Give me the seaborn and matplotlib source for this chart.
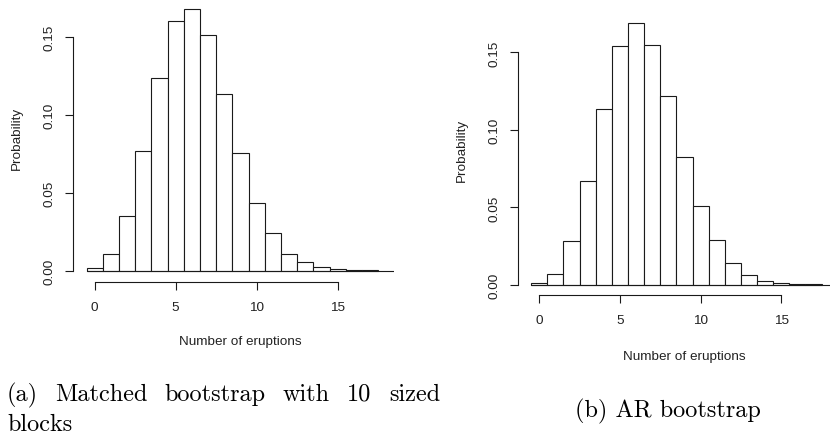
import numpy as np
import matplotlib
matplotlib.use("Agg")
import matplotlib.pyplot as plt
import seaborn as sns

# eruption counts (one bar per integer) and the bootstrap probabilities
eruptions = list(range(18))
prob_matched = [0.0017, 0.0107, 0.0353, 0.0767, 0.1237, 0.1600, 0.1680, 0.1513, 0.1132,
                0.0754, 0.0436, 0.0241, 0.0111, 0.0056, 0.0024, 0.0011, 0.0004, 0.0004]
prob_ar = [0.0011, 0.0071, 0.0286, 0.0668, 0.1135, 0.1539, 0.1687, 0.1545, 0.1219,
           0.0825, 0.0507, 0.0288, 0.0142, 0.0062, 0.0028, 0.0011, 0.0004, 0.0004]
x_ticks = [0, 5, 10, 15]
y_ticks = [0.00, 0.05, 0.10, 0.15]
y_tick_labels = ["0.00", "0.05", "0.10", "0.15"]
caption_a = ["(a)", "Matched", "bootstrap", "with", "10", "sized"]
caption_a2 = "blocks"
caption_b = "(b) AR bootstrap"

sns.set_style("ticks")
plt.rcParams["font.family"] = ["Liberation Sans", "DejaVu Sans"]

W, H = 830, 435
fig = plt.figure(figsize=(W / 100, H / 100), dpi=100)


def px_box(l, t, r, b):
    return [l / W, 1 - b / H, (r - l) / W, (b - t) / H]


def draw_hist(box, xlim, ylim, probs, xlab_px, ylab_px):
    ax = fig.add_axes(px_box(*box))
    sns.histplot(x=eruptions, weights=probs, discrete=True, ax=ax,
                 color="white", edgecolor="#1a1a1a", linewidth=0.8, alpha=1)
    ax.set_xlim(*xlim)
    ax.set_ylim(*ylim)
    start = (eruptions[0] - 0.5 - xlim[0]) / (xlim[1] - xlim[0])
    ax.axhline(0, xmin=start, xmax=1, color="#1a1a1a", lw=0.8)
    for s in ["top", "right"]:
        ax.spines[s].set_visible(False)
    ax.spines["left"].set_bounds(y_ticks[0], y_ticks[-1])
    ax.spines["bottom"].set_bounds(x_ticks[0], x_ticks[-1])
    for s in ["left", "bottom"]:
        ax.spines[s].set_linewidth(0.8)
        ax.spines[s].set_color("#1a1a1a")
    ax.set_xticks(x_ticks)
    ax.set_yticks(y_ticks)
    ax.set_yticklabels(y_tick_labels, rotation=90, va="center")
    ax.tick_params(length=5.8, width=0.8, color="#1a1a1a", labelsize=9.7,
                   labelcolor="#222222")
    ax.tick_params(axis="x", pad=8)
    ax.tick_params(axis="y", pad=7)
    ax.set_xlabel("Number of eruptions", fontsize=9.7, color="#222222", va="center")
    ax.set_ylabel("Probability", fontsize=9.7, color="#222222", va="center")
    l, t, r, b = box
    ax.xaxis.set_label_coords((xlab_px[0] - l) / (r - l), (b - xlab_px[1]) / (b - t))
    ax.yaxis.set_label_coords((ylab_px[0] - l) / (r - l), (b - ylab_px[1]) / (b - t))
    return ax


draw_hist((73, 0, 394, 282.7), (-1.34, 18.48), (-0.00685, 0.1741), prob_matched,
          (240, 341.7), (17, 138))
draw_hist((518.3, 14, 830, 296.3), (-1.30, 18.02), (-0.00664, 0.1754), prob_ar,
          (684, 356.7), (461.7, 150))

# captions in a Computer Modern face, first one justified over two lines
cap_font = dict(family="cmr10", fontsize=17.5, color="black", va="baseline")
renderer = fig.canvas.get_renderer()
words = [fig.text(0, 0, w, **cap_font) for w in caption_a]
widths = [t.get_window_extent(renderer).width for t in words]
x0, x1 = 7, 440
gap = (x1 - x0 - sum(widths)) / (len(words) - 1)
x = x0
for t, w in zip(words, widths):
    t.set_position((x / W, 1 - 401 / H))
    x += w + gap
fig.text(x0 / W, 1 - 431 / H, caption_a2, **cap_font)
fig.text(667.8 / W, 1 - 417.3 / H, caption_b, ha="center", **cap_font)

fig.savefig("out.png", dpi=100)
